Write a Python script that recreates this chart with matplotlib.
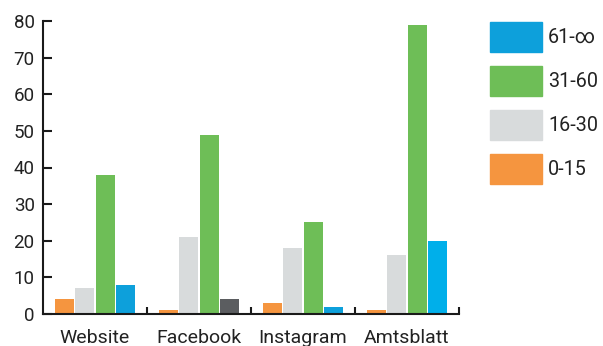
import matplotlib
matplotlib.use('Agg')
import matplotlib.pyplot as plt
import numpy as np

plt.rcParams['font.family'] = ['Roboto', 'DejaVu Sans']

# data
categories = ['Website', 'Facebook', 'Instagram', 'Amtsblatt']
series = ['0-15', '16-30', '31-60', '61-∞']
v_0_15 = [4, 1, 3, 1]
v_16_30 = [7, 21, 18, 16]
v_31_60 = [38, 49, 25, 79]
v_61_inf = [8, 4, 2, 20]

colors = ['#F5953F', '#D8DBDC', '#6EBE57', '#0DA0DB']
# a few bars in the source are drawn with their own colour
overrides = {(3, 1): '#5B5D60', (3, 3): '#00AFEA'}

values = [v_0_15, v_16_30, v_31_60, v_61_inf]
ink = '#222222'

fig = plt.figure(figsize=(6.03, 3.46), dpi=100)
ax = fig.add_axes([43 / 603, 32 / 346, 416 / 603, 293 / 346])

x = np.arange(len(categories))
pitch = 0.195
width = 0.183
handles = []
for s, (name, vals) in enumerate(zip(series, values)):
    cols = [overrides.get((s, c), colors[s]) for c in range(len(categories))]
    ax.bar(x + (s - 1.5) * pitch, vals, width, color=cols, label=name, zorder=2)
    handles.append(plt.Rectangle((0, 0), 1, 1, color=colors[s]))

ax.set_xlim(-0.5, 3.5)
ax.set_ylim(0, 80)
ax.set_yticks(range(0, 81, 10))

for side in ['top', 'right']:
    ax.spines[side].set_visible(False)
for side in ['left', 'bottom']:
    ax.spines[side].set_linewidth(1.5)
    ax.spines[side].set_color('#1a1a1a')
    ax.spines[side].set_zorder(3)

ax.set_xticks([0.5, 1.5, 2.5, 3.5])
ax.set_xticklabels([])
ax.set_xticks(x, minor=True)
ax.set_xticklabels(categories, minor=True)
ax.tick_params(axis='x', which='major', direction='in', length=5, width=1.5, color='#1a1a1a')
ax.tick_params(axis='x', which='minor', length=0, pad=11, labelsize=14, labelcolor=ink)
ax.tick_params(axis='y', direction='in', length=6.5, width=1.5, color='#1a1a1a',
               pad=6, labelsize=13.5, labelcolor=ink)

leg = fig.legend(handles[::-1], series[::-1], loc='upper left',
                 bbox_to_anchor=(482 / 603, 1 - 14 / 346), frameon=False,
                 fontsize=14.2, handlelength=2.65, handleheight=1.96,
                 handletextpad=0.3, labelspacing=0.71, borderaxespad=0)
for t in leg.get_texts():
    t.set_color(ink)

fig.savefig('out.png', dpi=100)
